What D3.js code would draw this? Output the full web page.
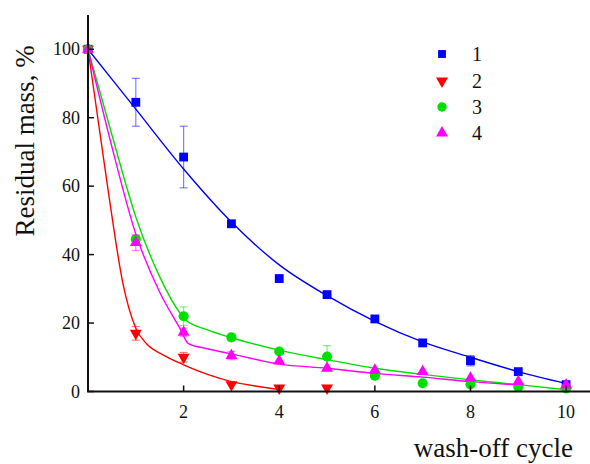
<!DOCTYPE html>
<html lang="en">
  <head>
    <meta charset="UTF-8">
    <script src="https://d3js.org/d3.v7.min.js"></script>
    <title>Residual mass</title>
    <style>
      body { margin: 0; background: #fff; }
      svg text { font-family: "Liberation Serif", "DejaVu Serif", "Times New Roman", serif; fill: #111; }
    </style>
  </head>
  <body>
    <div id="chart"></div>
    <script>
      // measured points (cycle 0..10)
      const cycles = [0, 1, 2, 3, 4, 5, 6, 7, 8, 9, 10];
      const s1 = [100, 84.5, 68.5, 49, 33, 28.3, 21.2, 14.2, 9, 5.8, 2];
      const s1err = [0, 7, 9, 0.5, 0, 0.5, 0, 0, 1.5, 0, 0];
      const s2 = [100, 17, 10, 2, 1, 1];
      const s2err = [0, 2, 1.4, 0, 0, 0];
      const s3 = [100, 44.5, 22, 15.8, 11.7, 10.2, 4.6, 2.4, 2.1, 1.3, 0.9];
      const s3err = [0, 1, 2.7, 1, 0.5, 3.2, 0, 0, 0, 0, 0];
      const s4 = [100, 43.5, 17.3, 10.5, 8.9, 6.8, 6.2, 5.8, 3.9, 2.9, 1.9];
      const s4err = [0, 2.3, 1.2, 1.2, 0, 0.6, 0, 0, 0, 0, 0];

      // fitted curves
      const fit1x = [0, 1, 2, 3, 4, 5, 6, 7, 8, 9, 10];
      const fit1y = [100, 82.5, 65, 49.5, 37, 28, 20.5, 14.5, 10, 5.8, 2.3];
      const fit2x = [0, 0.25, 0.45, 0.73, 1, 1.22, 1.57, 2, 2.5, 3, 3.5, 4];
      const fit2y = [100, 75.5, 56, 31.6, 18.5, 14, 10.7, 7.8, 5, 2.9, 1.6, 0.6];
      const fit3x = [0, 0.5, 1, 1.5, 1.92, 2.05, 2.5, 3, 4, 5, 6, 7, 8, 9, 10];
      const fit3y = [100, 75, 51, 33.5, 23, 20.8, 18, 15.7, 12.1, 9.3, 6.8, 5, 3.4, 2, 0.5];
      const fit4x = [0, 0.5, 1, 1.5, 1.92, 2.1, 2.5, 3, 4, 5, 6, 7, 8, 9];
      const fit4y = [100, 71.5, 46, 29, 18.5, 14, 12.5, 11, 8, 6.8, 5.3, 4.2, 2.9, 1.9];

      const seriesNames = ["1", "2", "3", "4"];
      const colors = ["#0000ff", "#ff0000", "#00e000", "#ff00ff"];
      const shapes = [d3.symbolSquare, d3.symbolTriangle, d3.symbolCircle, d3.symbolTriangle];

      const xTicks = [2, 4, 6, 8, 10];
      const yTicks = [0, 20, 40, 60, 80, 100];

      const width = 590, height = 464;
      const mLeft = 88, mRight = 590, mTop = 15, mBottom = 391.5;
      const serif = '"Liberation Serif", "DejaVu Serif", "Times New Roman", serif';

      const x = d3.scaleLinear().domain([0, 10.5]).range([mLeft, mRight]);
      const y = d3.scaleLinear().domain([0, 110]).range([mBottom, mTop]);

      const svg = d3.select("#chart").append("svg")
        .attr("width", width)
        .attr("height", height)
        .attr("font-family", serif);

      const series = [
        { pts: s1, err: s1err, fx: fit1x, fy: fit1y },
        { pts: s2, err: s2err, fx: fit2x, fy: fit2y },
        { pts: s3, err: s3err, fx: fit3x, fy: fit3y },
        { pts: s4, err: s4err, fx: fit4x, fy: fit4y }
      ];

      const line = d3.line()
        .x(d => x(d[0]))
        .y(d => y(d[1]))
        .curve(d3.curveMonotoneX);

      // fit lines
      series.forEach((s, i) => {
        svg.append("path")
          .attr("d", line(s.fx.map((v, j) => [v, s.fy[j]])))
          .attr("fill", "none")
          .attr("stroke", colors[i])
          .attr("stroke-width", 1.4);
      });

      // error bars + markers
      series.forEach((s, i) => {
        const g = svg.append("g");
        const data = s.pts.map((v, j) => ({ c: cycles[j], v: v, e: s.err[j] }));
        const eb = g.selectAll(".eb").data(data.filter(d => d.e > 0.8)).enter().append("g")
          .attr("stroke", colors[i])
          .attr("stroke-opacity", 0.5)
          .attr("stroke-width", 1.2);
        eb.append("line")
          .attr("x1", d => x(d.c)).attr("x2", d => x(d.c))
          .attr("y1", d => y(d.v + d.e)).attr("y2", d => y(d.v - d.e));
        eb.append("line")
          .attr("x1", d => x(d.c) - 4).attr("x2", d => x(d.c) + 4)
          .attr("y1", d => y(d.v + d.e)).attr("y2", d => y(d.v + d.e));
        eb.append("line")
          .attr("x1", d => x(d.c) - 4).attr("x2", d => x(d.c) + 4)
          .attr("y1", d => y(d.v - d.e)).attr("y2", d => y(d.v - d.e));

        const size = i === 2 ? 80 : (i === 0 ? 78 : 62);
        g.selectAll(".m").data(data).enter().append("path")
          .attr("d", d3.symbol().type(shapes[i]).size(size))
          .attr("transform", d => "translate(" + x(d.c) + "," + y(d.v) + ")" + (i === 1 ? " rotate(180)" : ""))
          .attr("fill", colors[i]);
      });

      // axes
      svg.append("line")
        .attr("x1", mLeft).attr("x2", mLeft)
        .attr("y1", mTop).attr("y2", mBottom)
        .attr("stroke", "#111").attr("stroke-width", 2);
      svg.append("line")
        .attr("x1", mLeft - 1).attr("x2", mRight)
        .attr("y1", mBottom).attr("y2", mBottom)
        .attr("stroke", "#111").attr("stroke-width", 2);

      svg.selectAll(".yt").data(yTicks).enter().append("line")
        .attr("x1", mLeft).attr("x2", mLeft + 6)
        .attr("y1", d => y(d)).attr("y2", d => y(d))
        .attr("stroke", "#111").attr("stroke-width", 1.5);
      svg.selectAll(".yl").data(yTicks).enter().append("text")
        .attr("x", mLeft - 8)
        .attr("y", d => y(d) + 6)
        .attr("text-anchor", "end")
        .attr("font-size", 18)
        .text(d => d);

      svg.selectAll(".xt").data(xTicks).enter().append("line")
        .attr("x1", d => x(d)).attr("x2", d => x(d))
        .attr("y1", mBottom).attr("y2", mBottom - 6)
        .attr("stroke", "#111").attr("stroke-width", 1.5);
      svg.selectAll(".xl").data(xTicks).enter().append("text")
        .attr("x", d => x(d))
        .attr("y", mBottom + 26)
        .attr("text-anchor", "middle")
        .attr("font-size", 18)
        .text(d => d);

      svg.append("text")
        .attr("transform", "translate(34,141) rotate(-90)")
        .attr("text-anchor", "middle")
        .attr("font-size", 27)
        .text("Residual mass, %");

      svg.append("text")
        .attr("x", 573)
        .attr("y", 457)
        .attr("text-anchor", "end")
        .attr("font-size", 27)
        .text("wash-off cycle");

      // legend
      const legRows = [54, 81, 107, 133];
      seriesNames.forEach((n, i) => {
        svg.append("path")
          .attr("d", d3.symbol().type(shapes[i]).size(i === 2 ? 70 : 62))
          .attr("transform", "translate(442," + legRows[i] + ")" + (i === 1 ? " rotate(180)" : ""))
          .attr("fill", colors[i]);
        svg.append("text")
          .attr("x", 472)
          .attr("y", legRows[i] + 7)
          .attr("font-size", 20)
          .text(n);
      });
    </script>
  </body>
</html>
